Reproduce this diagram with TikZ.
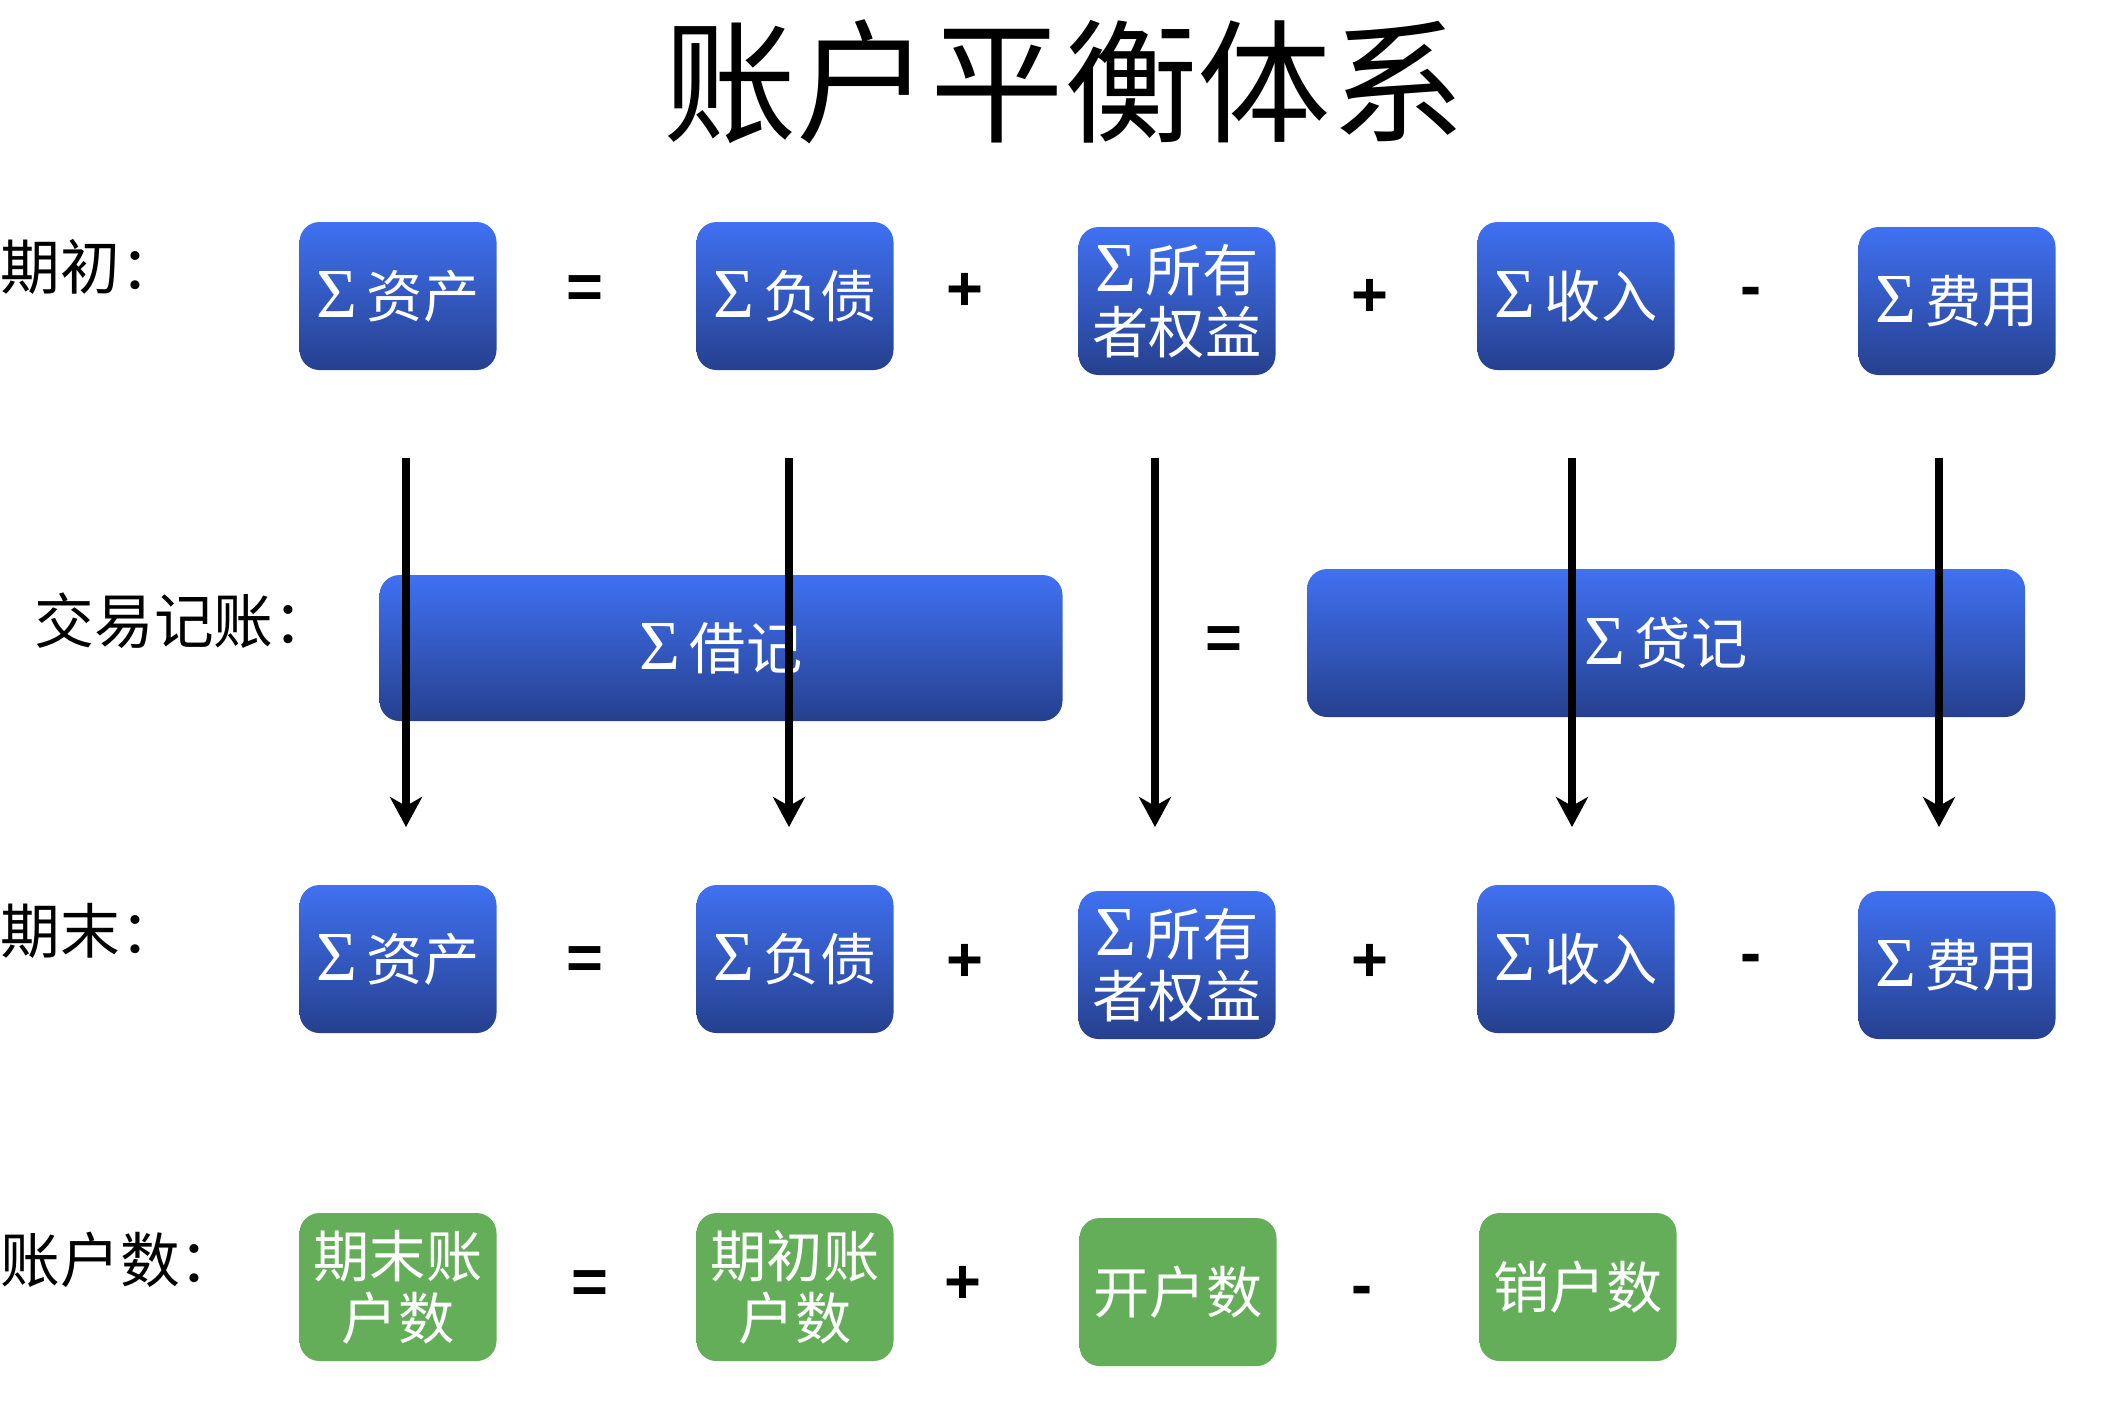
\documentclass[tikz,border=0pt]{standalone}
\usepackage{fontspec}
\setmainfont{Liberation Serif}
\newfontfamily\cjk{Noto Sans CJK SC}
\newfontfamily\opfont{Liberation Sans}
\usetikzlibrary{arrows.meta}

\definecolor{bluetop}{RGB}{64,113,242}
\definecolor{bluebot}{RGB}{38,64,142}
\definecolor{acctgreen}{RGB}{100,174,89}

\newcommand{\sumof}[1]{{\fontsize{20}{17.7}\selectfont Σ}\,{\cjk #1}}

\tikzset{
    blubox/.style={rounded corners=0.2cm, top color=bluetop, bottom color=bluebot,
        text=white, minimum width=1.97cm, minimum height=1.48cm, inner sep=0pt,
        align=center, font=\fontsize{16}{17.7}\selectfont},
    grnbox/.style={blubox, top color=acctgreen, bottom color=acctgreen},
    rowlabel/.style={anchor=west, inner sep=0pt, font=\cjk\fontsize{17}{19}\selectfont},
    op/.style={font=\opfont\bfseries\fontsize{18}{20}\selectfont, inner sep=0pt},
    flow/.style={line width=2.3pt, -{Stealth[length=0.3cm, width=0.32cm, inset=0.09cm]}}
}

\begin{document}
\begin{tikzpicture}
    \useasboundingbox (0,0) rectangle (21.14,-14.10);

    \node (title) at (10.64,-0.82) {\cjk\fontsize{38}{40}\selectfont 账户平衡体系};

    % opening balances
    \node[rowlabel] (lbopen) at (0,-2.67) {期初：};
    \node[blubox] (asset1) at (3.98,-2.96) {\sumof{资产}};
    \node[op] (eq1) at (5.85,-2.92) {=};
    \node[blubox] (liab1) at (7.95,-2.96) {\sumof{负债}};
    \node[op] (plus1) at (9.65,-2.92) {+};
    \node[blubox] (equity1) at (11.77,-3.01) {\sumof{所有}\\{\cjk 者权益}};
    \node[op] (plus2) at (13.70,-2.98) {+};
    \node[blubox] (income1) at (15.76,-2.96) {\sumof{收入}};
    \node[op] (minus1) at (17.51,-2.97) {-};
    \node[blubox] (cost1) at (19.57,-3.01) {\sumof{费用}};

    % transactions
    \node[rowlabel] (lbtrans) at (0.34,-6.21) {交易记账：};
    \node[blubox, minimum width=6.83cm, minimum height=1.46cm] (debit) at (7.21,-6.48) {\sumof{借记}};
    \node[op] (eq2) at (12.24,-6.43) {=};
    \node[blubox, minimum width=7.18cm] (credit) at (16.66,-6.43) {\sumof{贷记}};

    \foreach \x [count=\i] in {4.06,7.89,11.55,15.72,19.39} {
        \coordinate (top\i) at (\x,-4.58);
        \coordinate (bot\i) at (\x,-8.27);
        \draw[flow] (top\i) -- (bot\i);
    }

    % closing balances
    \node[rowlabel] (lbclose) at (0,-9.31) {期末：};
    \node[blubox] (asset2) at (3.98,-9.59) {\sumof{资产}};
    \node[op] (eq3) at (5.85,-9.63) {=};
    \node[blubox] (liab2) at (7.95,-9.59) {\sumof{负债}};
    \node[op] (plus3) at (9.65,-9.63) {+};
    \node[blubox] (equity2) at (11.77,-9.65) {\sumof{所有}\\{\cjk 者权益}};
    \node[op] (plus4) at (13.70,-9.63) {+};
    \node[blubox] (income2) at (15.76,-9.59) {\sumof{收入}};
    \node[op] (minus2) at (17.51,-9.64) {-};
    \node[blubox] (cost2) at (19.57,-9.65) {\sumof{费用}};

    % number of accounts
    \node[rowlabel] (lbcount) at (0,-12.60) {账户数：};
    \node[grnbox, font=\cjk\fontsize{16}{17.7}\selectfont] (nclose) at (3.98,-12.87) {期末账\\户数};
    \node[op] (eq4) at (5.90,-12.87) {=};
    \node[grnbox, font=\cjk\fontsize{16}{17.7}\selectfont] (nopen) at (7.95,-12.87) {期初账\\户数};
    \node[op] (plus5) at (9.63,-12.85) {+};
    \node[grnbox, font=\cjk\fontsize{16}{17.7}\selectfont] (nnew) at (11.78,-12.92) {开户数};
    \node[op] (minus3) at (13.62,-12.96) {-};
    \node[grnbox, font=\cjk\fontsize{16}{17.7}\selectfont] (nshut) at (15.78,-12.87) {销户数};
\end{tikzpicture}
\end{document}
